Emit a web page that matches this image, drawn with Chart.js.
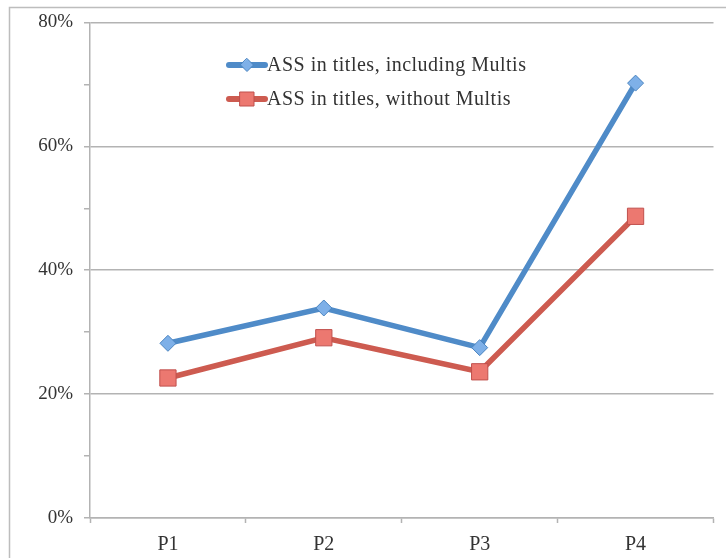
<!DOCTYPE html>
<html><head><meta charset="utf-8">
<script src="https://cdn.jsdelivr.net/npm/chart.js@4/dist/chart.umd.min.js"></script>
<style>html,body{margin:0;padding:0;background:#fff}#wrap{width:726px;height:558px}</style>
</head><body><div id="wrap"><canvas id="c" width="726" height="558"></canvas></div>
<script>
const categories = ["P1","P2","P3","P4"];
const seriesIncluding = [28.2, 33.9, 27.5, 70.2];
const seriesWithout = [22.6, 29.1, 23.6, 48.7];
const seriesNames = ["ASS in titles, including Multis", "ASS in titles, without Multis"];
const yTicks = [0, 20, 40, 60, 80];

const FONT = "'Liberation Serif', 'DejaVu Serif', serif";
const GRID = "#b3b3b3";

const framePlugin = {
  id: 'frame',
  beforeDraw(chart) {
    const ctx = chart.ctx;
    ctx.save();
    ctx.strokeStyle = "#bdbdbd";
    ctx.lineWidth = 1.5;
    ctx.strokeRect(9.5, 7.5, 800, 700);
    ctx.restore();
  }
};

const legendPlugin = {
  id: 'insideLegend',
  afterDraw(chart) {
    const ctx = chart.ctx;
    ctx.save();
    chart.data.datasets.forEach((ds, i) => {
      const y = 65 + i * 34;
      const x0 = 229, x1 = 265, xm = 247;
      ctx.strokeStyle = ds.borderColor;
      ctx.lineWidth = 6;
      ctx.lineCap = 'round';
      ctx.beginPath(); ctx.moveTo(x0, y); ctx.lineTo(x1, y); ctx.stroke();
      ctx.fillStyle = ds.pointBackgroundColor;
      ctx.strokeStyle = ds.pointBorderColor;
      ctx.lineWidth = 1;
      ctx.beginPath();
      if (ds.pointStyle === 'rectRot') {
        const r = 6.5;
        ctx.moveTo(xm, y - r); ctx.lineTo(xm + r, y); ctx.lineTo(xm, y + r); ctx.lineTo(xm - r, y); ctx.closePath();
      } else {
        const s = 7;
        ctx.rect(xm - s, y - s, 2 * s, 2 * s);
      }
      ctx.fill(); ctx.stroke();
      ctx.fillStyle = "#333";
      ctx.font = "20px " + FONT;
      ctx.letterSpacing = "0.5px";
      ctx.textBaseline = 'middle';
      ctx.textAlign = 'left';
      ctx.fillText(ds.label, 267, y + 1);
    });
    ctx.restore();
  }
};

new Chart(document.getElementById('c'), {
  type: 'line',
  data: {
    labels: categories,
    datasets: [
      {
        label: seriesNames[0],
        data: seriesIncluding,
        borderColor: "#4f8bc8",
        borderWidth: 5.5,
        pointStyle: 'rectRot',
        pointRadius: 8,
        pointHoverRadius: 8,
        pointBackgroundColor: "#7eb0e8",
        pointBorderColor: "#4a84c0",
        pointBorderWidth: 1,
        tension: 0
      },
      {
        label: seriesNames[1],
        data: seriesWithout,
        borderColor: "#cd5b50",
        borderWidth: 5.5,
        pointStyle: 'rect',
        pointRadius: 11.5,
        pointHoverRadius: 11.5,
        pointBackgroundColor: "#ec7870",
        pointBorderColor: "#c0504d",
        pointBorderWidth: 1,
        tension: 0
      }
    ]
  },
  options: {
    responsive: false,
    animation: false,
    devicePixelRatio: 1,
    layout: { padding: { left: 10, right: 11, top: 20, bottom: 0 } },
    plugins: { legend: { display: false }, tooltip: { enabled: false } },
    scales: {
      x: {
        offset: true,
        grid: {
          offset: true,
          drawOnChartArea: false,
          drawTicks: true,
          tickLength: 5,
          tickColor: GRID,
          tickWidth: 1.5
        },
        border: { color: GRID, width: 1.5 },
        ticks: {
          color: "#333",
          font: { family: FONT, size: 20 },
          padding: 10
        },
        afterFit(scale) { scale.height = 40; }
      },
      y: {
        min: 0, max: 80,
        afterBuildTicks(scale) {
          const t = [];
          for (let v = 0; v <= 80; v += 10) t.push({ value: v });
          scale.ticks = t;
        },
        grid: {
          color: ctx => (ctx.tick && ctx.tick.value % 20 === 0) ? GRID : 'rgba(0,0,0,0)',
          tickColor: GRID,
          tickLength: 6,
          lineWidth: 1.5,
          tickWidth: 1.5
        },
        border: { color: GRID, width: 1.5 },
        ticks: {
          color: "#333",
          font: { family: FONT, size: 19 },
          padding: 11,
          callback: v => (yTicks.includes(v) ? v + "%" : "")
        },
        afterFit(scale) { scale.width = 80; }
      }
    }
  },
  plugins: [framePlugin, legendPlugin]
});
</script></body></html>
